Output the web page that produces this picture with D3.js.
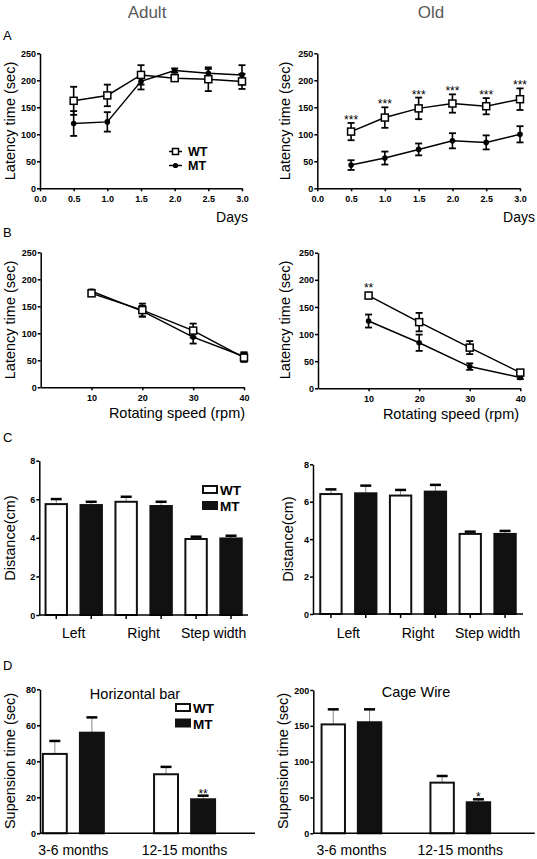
<!DOCTYPE html>
<html><head><meta charset="utf-8">
<script src="https://cdn.jsdelivr.net/npm/d3@7"></script>
<style>
body{margin:0;background:#fff;}
svg text{font-family:Arial,"Liberation Sans",sans-serif;}
</style></head>
<body><svg id="c" width="537" height="859"></svg>
<script>
// ---------- DATA ----------
const days = [0.5, 1.0, 1.5, 2.0, 2.5, 3.0];
const dayTicks = [0, 0.5, 1.0, 1.5, 2.0, 2.5, 3.0];
const adultWT = [162, 172, 210, 204, 202, 198];
const adultWTErr = [26, 20, 18, 5, 22, 14];
const adultMT = [120, 123, 198, 218, 213, 210];
const adultMTErr = [23, 18, 15, 4, 8, 18];
const oldWT = [105, 131, 148, 157, 152, 165];
const oldWTErr = [16, 19, 20, 17, 15, 20];
const oldMT = [43, 56, 72, 88, 85, 100];
const oldMTErr = [9, 12, 11, 14, 13, 15];
const oldStars = ["***", "***", "***", "***", "***", "***"];

const speeds = [10, 20, 30, 40];
const rotAdultWT = [174, 143, 105, 55];
const rotAdultWTErr = [3, 12, 13, 8];
const rotAdultMT = [178, 141, 93, 57];
const rotAdultMTErr = [3, 10, 12, 8];
const rotOldWT = [171, 122, 75, 29];
const rotOldWTErr = [5, 17, 12, 4];
const rotOldMT = [124, 84, 40, 20];
const rotOldMTErr = [12, 15, 6, 3];
const rotOldStars = ["**", "", "", ""];
const latencyTicks = [0, 50, 100, 150, 200, 250];

const gaitCats = ["Left", "Right", "Step width"];
const gaitAdultWT = [5.75, 5.87, 3.94];
const gaitAdultWTErr = [0.26, 0.26, 0.12];
const gaitAdultMT = [5.70, 5.65, 3.97];
const gaitAdultMTErr = [0.17, 0.22, 0.14];
const gaitOldWT = [6.41, 6.33, 4.28];
const gaitOldWTErr = [0.25, 0.30, 0.12];
const gaitOldMT = [6.45, 6.54, 4.28];
const gaitOldMTErr = [0.41, 0.36, 0.16];
const gaitTicks = [0, 2, 4, 6, 8];

const ages = ["3-6 months", "12-15 months"];
const hbarWT = [44.1, 32.8];
const hbarWTErr = [7.2, 4.1];
const hbarMT = [55.9, 18.9];
const hbarMTErr = [8.5, 2.0];
const hbarStars = ["", "**"];
const hbarTicks = [0, 20, 40, 60, 80];
const cageWT = [152, 70.7];
const cageWTErr = [21, 9.3];
const cageMT = [155, 43.3];
const cageMTErr = [18, 4.1];
const cageStars = ["", "*"];
const cageTicks = [0, 50, 100, 150, 200];

const groups = ["WT", "MT"];

// ---------- DRAWING ----------
const svg = d3.select("#c");
const FONT = 'Arial,"Liberation Sans",sans-serif';

function text(x, y, s, size, opts = {}) {
  const t = svg.append("text").attr("x", x).attr("y", y).text(s)
    .attr("font-size", size).attr("fill", opts.fill || "#000")
    .attr("text-anchor", opts.anchor || "start")
    .attr("font-weight", opts.weight || "normal");
  if (opts.rotate) t.attr("transform", `rotate(-90,${x},${y})`);
  return t;
}

function styleAxis(g) {
  g.select(".domain").attr("stroke", "#000").attr("stroke-width", 1.5);
  g.selectAll(".tick line").attr("stroke", "#000").attr("stroke-width", 1.5);
  g.selectAll(".tick text").attr("font-size", 9).attr("font-weight", "bold")
    .attr("font-family", FONT).attr("fill", "#000");
}

function yAxis(y, x0, ticks) {
  const g = svg.append("g").attr("transform", `translate(${x0},0)`)
    .call(d3.axisLeft(y).tickValues(ticks).tickSize(3).tickPadding(1).tickSizeOuter(0));
  styleAxis(g);
  g.selectAll(".tick text").attr("dy", "0.34em");
}

function linePanel(cfg) {
  const x = d3.scaleLinear().domain(cfg.xDomain).range(cfg.xRange);
  const y = d3.scaleLinear().domain([0, 250]).range(cfg.yRange);
  yAxis(y, cfg.xRange[0], latencyTicks);
  const gx = svg.append("g").attr("transform", `translate(0,${cfg.yRange[0]})`)
    .call(d3.axisBottom(x).tickValues(cfg.xTicks).tickSize(3).tickPadding(4)
      .tickSizeOuter(0).tickFormat(cfg.tickFormat));
  styleAxis(gx);

  const series = [
    { vals: cfg.mt, err: cfg.mtErr, kind: "MT" },
    { vals: cfg.wt, err: cfg.wtErr, kind: "WT" }
  ];
  const line = d3.line().x((d, i) => x(cfg.xs[i])).y(d => y(d));
  series.forEach(s => {
    svg.append("path").datum(s.vals).attr("d", line)
      .attr("fill", "none").attr("stroke", "#000").attr("stroke-width", 1.5);
  });
  series.forEach(s => {
    const g = svg.append("g");
    s.vals.forEach((v, i) => {
      const cx = x(cfg.xs[i]);
      g.append("line").attr("x1", cx).attr("x2", cx)
        .attr("y1", y(v + s.err[i])).attr("y2", y(v - s.err[i]))
        .attr("stroke", "#000").attr("stroke-width", 1.6);
      [v + s.err[i], v - s.err[i]].forEach(e => {
        g.append("line").attr("x1", cx - 3.5).attr("x2", cx + 3.5)
          .attr("y1", y(e)).attr("y2", y(e)).attr("stroke", "#000").attr("stroke-width", 1.8);
      });
    });
  });
  series.forEach(s => {
    s.vals.forEach((v, i) => {
      const cx = x(cfg.xs[i]), cy = y(v);
      if (s.kind === "WT") {
        svg.append("rect").attr("x", cx - 3.5).attr("y", cy - 3.5).attr("width", 7).attr("height", 7)
          .attr("fill", "#fff").attr("stroke", "#000").attr("stroke-width", 1.5);
      } else {
        svg.append("circle").attr("cx", cx).attr("cy", cy).attr("r", 2.8).attr("fill", "#000");
      }
    });
  });
  if (cfg.stars) {
    cfg.stars.forEach((s, i) => {
      if (!s) return;
      const top = y(cfg.wt[i] + cfg.wtErr[i]);
      text(x(cfg.xs[i]), top + cfg.starDy, s, 12, { anchor: "middle" });
    });
  }
}

function barPanel(cfg) {
  const slots = cfg.cats.flatMap((c, ci) => {
    const s = groups.map(g => c + "|" + g);
    return cfg.gap ? s.concat(["gap" + ci]) : s;
  });
  const x = d3.scaleBand().domain(slots).range(cfg.xRange)
    .paddingInner(cfg.padIn).paddingOuter(cfg.padOut);
  const y = d3.scaleLinear().domain([0, cfg.yMax]).range(cfg.yRange);
  yAxis(y, cfg.xRange[0], cfg.yTicks);

  const rows = cfg.cats.flatMap((c, i) => [
    { key: c + "|WT", v: cfg.wt[i], e: cfg.wtErr[i], g: "WT", star: "" },
    { key: c + "|MT", v: cfg.mt[i], e: cfg.mtErr[i], g: "MT", star: cfg.stars ? cfg.stars[i] : "" }
  ]);
  const bw = x.bandwidth();
  rows.forEach(r => {
    const cx = x(r.key) + bw / 2;
    svg.append("line").attr("x1", cx).attr("x2", cx)
      .attr("y1", y(r.v)).attr("y2", y(r.v + r.e)).attr("stroke", "#888").attr("stroke-width", 1);
    svg.append("line").attr("x1", cx - 5.5).attr("x2", cx + 5.5)
      .attr("y1", y(r.v + r.e)).attr("y2", y(r.v + r.e)).attr("stroke", "#000").attr("stroke-width", 2.5);
    svg.append("rect").attr("x", x(r.key) + 1).attr("y", y(r.v))
      .attr("width", bw - 2).attr("height", y(0) - y(r.v))
      .attr("fill", r.g === "WT" ? "#fff" : "#111").attr("stroke", "#111").attr("stroke-width", 2);
    if (r.star) text(cx, y(r.v + r.e) + 2, r.star, 12, { anchor: "middle" });
  });
  const gx = svg.append("g").attr("transform", `translate(0,${cfg.yRange[0]})`);
  gx.append("line").attr("x1", cfg.xRange[0]).attr("x2", cfg.xRange[1])
    .attr("stroke", "#000").attr("stroke-width", 1.5);
  if (cfg.xTicks) {
    rows.forEach(r => {
      const cx = x(r.key) + bw / 2;
      gx.append("line").attr("x1", cx).attr("x2", cx).attr("y1", 0).attr("y2", 4)
        .attr("stroke", "#000").attr("stroke-width", 1.5);
    });
  }
  cfg.cats.forEach(c => {
    const cx = (x(c + "|WT") + x(c + "|MT") + bw) / 2;
    text(cx, cfg.labelY, c, 14, { anchor: "middle" });
  });
}

function boxLegend(x0, y0, dy) {
  groups.forEach((g, i) => {
    svg.append("rect").attr("x", x0).attr("y", y0 + i * dy).attr("width", 14).attr("height", 7)
      .attr("fill", g === "WT" ? "#fff" : "#111").attr("stroke", "#111").attr("stroke-width", 2);
    text(x0 + 17, y0 + i * dy + 9, g, 13.5, { weight: "bold" });
  });
}

// Column titles
text(147, 18, "Adult", 17, { anchor: "middle", fill: "#595959" });
text(431, 18, "Old", 17, { anchor: "middle", fill: "#595959" });

// Panel letters
text(3, 40, "A", 13);
text(3, 237, "B", 13);
text(3, 442, "C", 13);
text(3, 670, "D", 13);

// ---- A ----
const fmt1 = d3.format(".1f");
linePanel({ xs: days, xDomain: [0, 3], xRange: [40, 242], yRange: [188.3, 53.3], xTicks: dayTicks,
  tickFormat: fmt1, wt: adultWT, wtErr: adultWTErr, mt: adultMT, mtErr: adultMTErr });
linePanel({ xs: days, xDomain: [0, 3], xRange: [317.3, 520], yRange: [188.3, 53.3], xTicks: dayTicks,
  tickFormat: fmt1, wt: oldWT, wtErr: oldWTErr, mt: oldMT, mtErr: oldMTErr, stars: oldStars, starDy: 1 });
text(248, 222, "Days", 14, { anchor: "end" });
text(535, 222, "Days", 14, { anchor: "end" });
text(15, 121, "Latency  time  (sec)", 14.5, { anchor: "middle", rotate: true });
text(290, 121, "Latency  time  (sec)", 14.5, { anchor: "middle", rotate: true });
// line legend
groups.forEach((g, i) => {
  const ly = 151.5 + i * 14;
  svg.append("line").attr("x1", 169).attr("x2", 182).attr("y1", ly).attr("y2", ly)
    .attr("stroke", "#000").attr("stroke-width", 1.5);
  if (g === "WT") svg.append("rect").attr("x", 172.5).attr("y", ly - 3).attr("width", 6).attr("height", 6)
    .attr("fill", "#fff").attr("stroke", "#000").attr("stroke-width", 1.5);
  else svg.append("circle").attr("cx", 175.5).attr("cy", ly).attr("r", 2.6).attr("fill", "#000");
  text(188, ly + 4.5, g, 12.5, { weight: "bold" });
});

// ---- B ----
linePanel({ xs: speeds, xDomain: [0, 40], xRange: [40.7, 244], yRange: [387.3, 252.3], xTicks: speeds,
  tickFormat: d3.format("d"), wt: rotAdultWT, wtErr: rotAdultWTErr, mt: rotAdultMT, mtErr: rotAdultMTErr });
linePanel({ xs: speeds, xDomain: [0, 40], xRange: [318, 520.3], yRange: [388.3, 252.7], xTicks: speeds,
  tickFormat: d3.format("d"), wt: rotOldWT, wtErr: rotOldWTErr, mt: rotOldMT, mtErr: rotOldMTErr,
  stars: rotOldStars, starDy: -1 });
text(177, 418, "Rotating speed (rpm)", 14.5, { anchor: "middle" });
text(451, 419, "Rotating speed (rpm)", 14.5, { anchor: "middle" });
text(15, 320, "Latency  time  (sec)", 14.5, { anchor: "middle", rotate: true });
text(290, 320, "Latency  time  (sec)", 14.5, { anchor: "middle", rotate: true });

// ---- C ----
barPanel({ cats: gaitCats, wt: gaitAdultWT, wtErr: gaitAdultWTErr, mt: gaitAdultMT, mtErr: gaitAdultMTErr,
  xRange: [39.3, 248], yRange: [615, 460.7], yMax: 8, yTicks: gaitTicks, padIn: 0.33, padOut: 0.15,
  xTicks: true, labelY: 638 });
barPanel({ cats: gaitCats, wt: gaitOldWT, wtErr: gaitOldWTErr, mt: gaitOldMT, mtErr: gaitOldMTErr,
  xRange: [313, 523], yRange: [614, 464.3], yMax: 8, yTicks: gaitTicks, padIn: 0.33, padOut: 0.18,
  xTicks: true, labelY: 638 });
boxLegend(203, 486, 16);
text(15, 538, "Distance(cm)", 14.5, { anchor: "middle", rotate: true });
text(293, 539, "Distance(cm)", 14.5, { anchor: "middle", rotate: true });

// ---- D ----
barPanel({ cats: ages, wt: hbarWT, wtErr: hbarWTErr, mt: hbarMT, mtErr: hbarMTErr, gap: true,
  xRange: [40, 255], yRange: [833.3, 689.3], yMax: 80, yTicks: hbarTicks, padIn: 0.3, padOut: 0.05,
  stars: hbarStars, labelY: 855 });
barPanel({ cats: ages, wt: cageWT, wtErr: cageWTErr, mt: cageMT, mtErr: cageMTErr, gap: true,
  xRange: [313.3, 534.7], yRange: [833.3, 690], yMax: 200, yTicks: cageTicks, padIn: 0.3, padOut: 0.2,
  stars: cageStars, labelY: 855 });
text(135, 699, "Horizontal  bar", 14.5, { anchor: "middle" });
text(416, 697, "Cage  Wire", 14.5, { anchor: "middle" });
boxLegend(176, 704, 15.5);
text(15, 761, "Supension  time  (sec)", 14.5, { anchor: "middle", rotate: true });
text(288, 761, "Supension  time  (sec)", 14.5, { anchor: "middle", rotate: true });
</script></body></html>
